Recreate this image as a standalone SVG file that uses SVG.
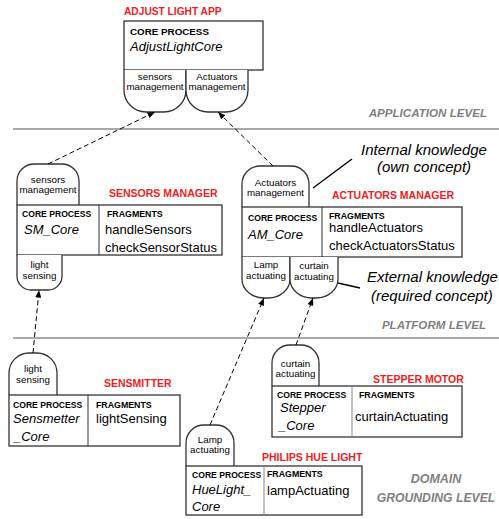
<svg xmlns="http://www.w3.org/2000/svg" width="499" height="519" viewBox="0 0 499 519">
<defs>
<marker id="ah" viewBox="0 0 10 8" refX="10" refY="4" markerWidth="8" markerHeight="6" orient="auto" markerUnits="userSpaceOnUse"><path d="M0,0 L10,4 L0,8 z" fill="#000" stroke="none"/></marker>
</defs>
<style>
.box{fill:#fff;stroke:#333;stroke-width:1.3}
.port{fill:#fff;stroke:#333;stroke-width:1.3}
.div{stroke:#333;stroke-width:1}
.lvl{stroke:#8c8c8c;stroke-width:1.6}
.ann{stroke:#000;stroke-width:1.4}
text{font-family:"Liberation Sans",Arial,sans-serif;fill:#000}
.title{font-weight:bold;font-size:10.5px;fill:#ee1c24}
.cp{font-weight:bold;font-size:8.6px}
.fr{font-weight:bold;font-size:8.8px}
.core{font-style:italic;font-size:13px}
.frag{font-size:13px}
.pt{font-size:9.8px;text-anchor:middle}
.level{font-weight:bold;font-style:italic;font-size:11.6px;fill:#7f7f7f;text-anchor:end}
.note{font-style:italic;font-size:15px}
.conn{stroke:#000;stroke-width:1;stroke-dasharray:5 3;fill:none;marker-end:url(#ah)}
</style>
<rect width="499" height="519" fill="#fff"/>

<g id="levels">
<line class="lvl" x1="13" y1="129" x2="499" y2="129"/>
<line class="lvl" x1="13" y1="338" x2="499" y2="338"/>
<text class="level" x="487" y="117">APPLICATION LEVEL</text>
<text class="level" x="486" y="329">PLATFORM LEVEL</text>
<text class="level" x="436" y="483" style="text-anchor:middle;font-size:12.5px">DOMAIN</text>
<text class="level" x="436" y="502" style="text-anchor:middle;font-size:12.2px">GROUNDING LEVEL</text>
</g>

<g id="adjust-light-app">
<text class="title" x="124" y="15" style="font-size:10.2px">ADJUST LIGHT APP</text>
<rect class="box" x="124" y="21" width="139" height="49"/>
<text class="cp" x="130" y="35" style="font-size:9.8px">CORE PROCESS</text>
<text class="core" x="130" y="51">AdjustLightCore</text>
<path class="port" d="M124,70 V90 A22 22 0 0 0 146,112 H164 A22 22 0 0 0 186,90 V70"/>
<text class="pt" x="155" y="80">sensors</text>
<text class="pt" x="155" y="90">management</text>
<path class="port" d="M186,70 V90 A22 22 0 0 0 208,112 H226 A22 22 0 0 0 248,90 V70"/>
<text class="pt" x="217" y="80">Actuators</text>
<text class="pt" x="217" y="90">management</text>
</g>

<g id="sensors-manager">
<path class="port" d="M17,205 V181 A17 17 0 0 1 34,164 H62 A17 17 0 0 1 79,181 V205"/>
<text class="pt" x="48" y="183">sensors</text>
<text class="pt" x="48" y="193">management</text>
<text class="title" x="109" y="197">SENSORS MANAGER</text>
<rect class="box" x="17" y="205" width="205" height="50"/>
<line class="div" x1="99" y1="205" x2="99" y2="255"/>
<text class="cp" x="22" y="217">CORE PROCESS</text>
<text class="fr" x="107" y="217">FRAGMENTS</text>
<text class="core" x="24" y="234">SM_Core</text>
<text class="frag" x="105" y="234">handleSensors</text>
<text class="frag" x="105" y="252">checkSensorStatus</text>
<path class="port" d="M17,255 V276 A14 14 0 0 0 31,290 H48 A14 14 0 0 0 62,276 V255"/>
<text class="pt" x="39.5" y="268">light</text>
<text class="pt" x="39.5" y="279">sensing</text>
</g>

<g id="actuators-manager">
<path class="port" d="M242,207 V184 A18 18 0 0 1 260,166 H291 A18 18 0 0 1 309,184 V207"/>
<text class="pt" x="275.5" y="186">Actuators</text>
<text class="pt" x="275.5" y="196">management</text>
<text class="title" x="332" y="199">ACTUATORS MANAGER</text>
<rect class="box" x="242" y="207" width="220" height="50"/>
<line class="div" x1="322" y1="207" x2="322" y2="257"/>
<text class="cp" x="248" y="221">CORE PROCESS</text>
<text class="fr" x="329" y="219">FRAGMENTS</text>
<text class="core" x="248" y="239">AM_Core</text>
<text class="frag" x="329" y="232">handleActuators</text>
<text class="frag" x="329" y="250">checkActuatorsStatus</text>
<path class="port" d="M242,257 V279 A22 19 0 0 0 264,298 H268 A22 19 0 0 0 290,279 V257"/>
<text class="pt" x="266" y="268">Lamp</text>
<text class="pt" x="266" y="279">actuating</text>
<path class="port" d="M290,257 V279 A22 19 0 0 0 312,298 H316 A22 19 0 0 0 338,279 V257"/>
<text class="pt" x="314" y="269">curtain</text>
<text class="pt" x="314" y="280">actuating</text>
</g>

<g id="notes">
<text class="note" x="424" y="155" text-anchor="middle">Internal knowledge</text>
<text class="note" x="424" y="172" text-anchor="middle">(own concept)</text>
<line class="ann" x1="313" y1="188" x2="352" y2="159"/>
<text class="note" x="367" y="282">External knowledge</text>
<text class="note" x="371" y="301">(required concept)</text>
<line class="ann" x1="338" y1="283" x2="360" y2="288"/>
</g>

<g id="sensmitter">
<path class="port" d="M9,395 V373 A20 20 0 0 1 29,353 H37 A20 20 0 0 1 57,373 V395"/>
<text class="pt" x="33" y="372">light</text>
<text class="pt" x="33" y="383">sensing</text>
<text class="title" x="104" y="387">SENSMITTER</text>
<rect class="box" x="9" y="395" width="171" height="51"/>
<line class="div" x1="88" y1="395" x2="88" y2="446"/>
<text class="cp" x="13" y="408">CORE PROCESS</text>
<text class="fr" x="96" y="408">FRAGMENTS</text>
<text class="core" x="13" y="423">Sensmetter</text>
<text class="core" x="14" y="441">_Core</text>
<text class="frag" x="96" y="423">lightSensing</text>
</g>

<g id="stepper-motor">
<path class="port" d="M272,386 V363 A18 18 0 0 1 290,345 H301 A18 18 0 0 1 319,363 V386"/>
<text class="pt" x="295.5" y="367">curtain</text>
<text class="pt" x="295.5" y="377">actuating</text>
<text class="title" x="373" y="383">STEPPER MOTOR</text>
<rect class="box" x="272" y="386" width="190" height="51"/>
<line class="div" x1="352" y1="386" x2="352" y2="437" style="stroke:#888"/>
<text class="cp" x="277" y="398">CORE PROCESS</text>
<text class="fr" x="359" y="398">FRAGMENTS</text>
<text class="core" x="280" y="412">Stepper</text>
<text class="core" x="279" y="430">_Core</text>
<text class="frag" x="355" y="421">curtainActuating</text>
</g>

<g id="philips-hue-light">
<path class="port" d="M186,466 V443 A18 18 0 0 1 204,425 H216 A18 18 0 0 1 234,443 V466"/>
<text class="pt" x="210" y="443">Lamp</text>
<text class="pt" x="210" y="453">actuating</text>
<text class="title" x="262" y="461">PHILIPS HUE LIGHT</text>
<rect class="box" x="186" y="466" width="176" height="49"/>
<line class="div" x1="264" y1="466" x2="264" y2="515" style="stroke:#888"/>
<text class="cp" x="192" y="478">CORE PROCESS</text>
<text class="fr" x="267" y="477">FRAGMENTS</text>
<text class="core" x="192" y="494">HueLight_</text>
<text class="core" x="192" y="511">Core</text>
<text class="frag" x="267" y="495">lampActuating</text>
</g>

<g id="connectors">
<line class="conn" x1="48" y1="164" x2="155" y2="112"/>
<line class="conn" x1="273" y1="166" x2="218" y2="112"/>
<line class="conn" x1="33" y1="353" x2="39" y2="290"/>
<line class="conn" x1="210" y1="425" x2="264" y2="298"/>
<line class="conn" x1="296" y1="345" x2="313" y2="298"/>
</g>
</svg>
